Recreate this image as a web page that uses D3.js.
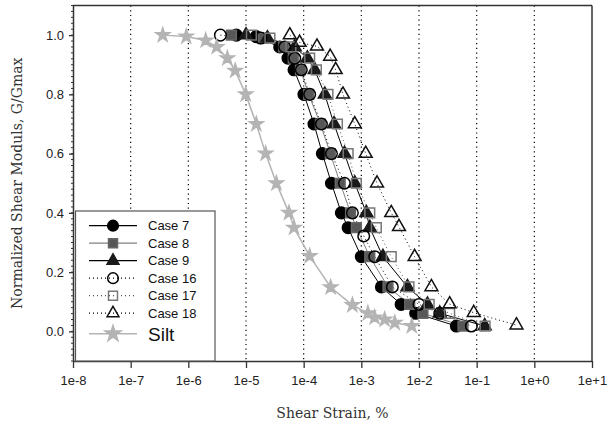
<!DOCTYPE html>
<html><head><meta charset="utf-8">
<script src="https://cdn.jsdelivr.net/npm/d3@7"></script>
<style>body{margin:0;background:#fff}svg{display:block}</style>
</head><body><div id="chart"></div>
<script>
// ---- data ----
const xTickLabels = ["1e-8","1e-7","1e-6","1e-5","1e-4","1e-3","1e-2","1e-1","1e+0","1e+1"];
const yTickLabels = ["0.0","0.2","0.4","0.6","0.8","1.0"];
const seriesNames = ["Case 7","Case 8","Case 9","Case 16","Case 17","Case 18","Silt"];

const case7X = [6.8e-6,1.5e-5,3.84e-5,5.35e-5,6.8e-5,1.01e-4,1.51e-4,2.11e-4,3.03e-4,4.5e-4,5.9e-4,1.0e-3,2.23e-3,4.9e-3,8.75e-3,4.45e-2];
const case7Y = [1.0,0.995,0.96,0.922,0.883,0.80,0.70,0.60,0.50,0.40,0.35,0.252,0.15,0.091,0.061,0.018];
const case8X = [5.6e-6,2.0e-5,4.5e-5,6.6e-5,8.8e-5,1.22e-4,1.95e-4,2.9e-4,4.3e-4,6.5e-4,8.2e-4,1.4e-3,2.9e-3,6.9e-3,1.17e-2,5.8e-2];
const case8Y = [1.0,0.99,0.96,0.922,0.883,0.80,0.70,0.60,0.50,0.40,0.35,0.252,0.15,0.091,0.061,0.018];
const case9X = [1.0e-5,2.35e-5,7.0e-5,1.16e-4,1.55e-4,2.32e-4,3.36e-4,5.1e-4,7.7e-4,1.22e-3,1.4e-3,2.37e-3,6.3e-3,1.4e-2,2.29e-2,0.138];
const case9Y = [1.0,0.99,0.96,0.922,0.883,0.80,0.70,0.60,0.50,0.40,0.35,0.252,0.15,0.091,0.061,0.018];
const case16X = [3.6e-6,1.8e-5,4.7e-5,7.0e-5,9.1e-5,1.27e-4,2.03e-4,3.03e-4,5.1e-4,7.0e-4,1.1e-3,1.71e-3,3.45e-3,1.0e-2,2.29e-2,8.1e-2];
const case16Y = [1.0,0.99,0.96,0.922,0.883,0.80,0.70,0.60,0.50,0.40,0.322,0.252,0.15,0.091,0.061,0.018];
const case17X = [1.24e-5,2.6e-5,6.0e-5,1.27e-4,1.66e-4,2.64e-4,3.85e-4,5.9e-4,8.2e-4,1.4e-3,1.82e-3,3.3e-3,6.7e-3,1.5e-2,3.4e-2,0.14];
const case17Y = [1.0,0.99,0.96,0.922,0.883,0.80,0.70,0.60,0.50,0.40,0.35,0.252,0.15,0.091,0.061,0.018];
const case18X = [5.75e-5,8.5e-5,1.7e-4,2.88e-4,3.59e-4,4.8e-4,7.7e-4,1.19e-3,1.87e-3,3.3e-3,4.5e-3,8.4e-3,1.64e-2,3.4e-2,8.9e-2,0.49];
const case18Y = [1.0,0.975,0.962,0.928,0.883,0.80,0.70,0.60,0.50,0.40,0.353,0.252,0.15,0.092,0.063,0.021];
const siltX = [3.6e-7,9.2e-7,2.0e-6,3.1e-6,4.75e-6,6.5e-6,9.9e-6,1.51e-5,2.19e-5,3.37e-5,5.56e-5,6.8e-5,1.27e-4,2.94e-4,7.0e-4,1.3e-3,1.7e-3,2.54e-3,3.8e-3,7.5e-3];
const siltY = [1.0,0.995,0.982,0.96,0.922,0.88,0.80,0.70,0.60,0.50,0.40,0.35,0.254,0.149,0.089,0.061,0.047,0.04,0.029,0.018];

// ---- layout / styles ----
const W = 608, H = 429;
const m = {left:73, right:592, top:5.5, bottom:361};
const styles = [
  {name:seriesNames[0], xs:case7X, ys:case7Y, sym:d3.symbolCircle, size:105, fill:"#000", stroke:"#000", line:"#000", dash:null},
  {name:seriesNames[1], xs:case8X, ys:case8Y, sym:d3.symbolSquare, size:95, fill:"#575757", stroke:"#666", line:"#808080", dash:null},
  {name:seriesNames[2], xs:case9X, ys:case9Y, sym:d3.symbolTriangle, size:72, fill:"#1a1a1a", stroke:"#1a1a1a", line:"#000", dash:null},
  {name:seriesNames[3], xs:case16X, ys:case16Y, sym:d3.symbolCircle, size:105, fill:"none", stroke:"#000", line:"#000", dash:"1,3"},
  {name:seriesNames[4], xs:case17X, ys:case17Y, sym:d3.symbolSquare, size:95, fill:"none", stroke:"#777", line:"#555", dash:"1,3"},
  {name:seriesNames[5], xs:case18X, ys:case18Y, sym:d3.symbolTriangle, size:72, fill:"none", stroke:"#111", line:"#000", dash:"1,3"},
  {name:seriesNames[6], xs:siltX, ys:siltY, sym:d3.symbolStar, size:60, fill:"#b4b4b4", stroke:"#b4b4b4", line:"#b4b4b4", dash:null, lw:1.5}
];

const svg = d3.select("#chart").append("svg").attr("width",W).attr("height",H);

const x = d3.scaleLog().domain([1e-8,1e1]).range([m.left,m.right]);
const y = d3.scaleLinear().domain([-0.1,1.1]).range([m.bottom,m.top]);

// grid (vertical dotted)
const decades = d3.range(-7,1).map(e=>Math.pow(10,e));
svg.append("g").selectAll("line").data(decades).join("line")
  .attr("x1",d=>x(d)).attr("x2",d=>x(d)).attr("y1",m.top).attr("y2",m.bottom)
  .attr("stroke","#000").attr("stroke-width",1.2).attr("stroke-dasharray","1.2,3.5");

// series
const lineGen = d3.line().x(d=>x(d[0])).y(d=>y(d[1]));
const gSeries = svg.append("g");
styles.forEach(s=>{
  const pts = s.xs.map((v,i)=>[v,s.ys[i]]);
  gSeries.append("path").attr("d",lineGen(pts)).attr("fill","none")
    .attr("stroke",s.line).attr("stroke-width",s.lw||1)
    .attr("stroke-dasharray",s.dash);
});
styles.forEach(s=>{
  const pts = s.xs.map((v,i)=>[v,s.ys[i]]);
  gSeries.append("g").selectAll("path").data(pts).join("path")
    .attr("transform",d=>`translate(${x(d[0])},${y(d[1])})`)
    .attr("d",d3.symbol().type(s.sym).size(s.size))
    .attr("fill",s.fill).attr("stroke",s.stroke).attr("stroke-width",1.5);
});

// axes
const xAxis = d3.axisBottom(x).tickValues(xTickLabels.map(t=>+t)).tickFormat((d,i)=>xTickLabels[i]).tickSize(7).tickSizeOuter(0);
const gx = svg.append("g").attr("transform",`translate(0,${m.bottom})`).call(xAxis);
gx.select(".domain").attr("stroke","#333").attr("stroke-width",1.5);
gx.selectAll(".tick line").attr("stroke","#333").attr("stroke-width",1.3);
gx.selectAll("text").attr("font-family","Liberation Sans, Arial, sans-serif").attr("font-size",13).attr("fill","#222").attr("dy","1.05em");

// minor y ticks
svg.append("g").selectAll("line").data(d3.range(-0.1,1.101,0.02)).join("line")
  .attr("x1",m.left-2).attr("x2",m.left).attr("y1",d=>y(d)).attr("y2",d=>y(d))
  .attr("stroke","#333").attr("stroke-width",1);
const yAxis = d3.axisLeft(y).tickValues(yTickLabels.map(t=>+t)).tickFormat((d,i)=>yTickLabels[i]).tickSize(4).tickSizeOuter(0);
const gy = svg.append("g").attr("transform",`translate(${m.left},0)`).call(yAxis);
gy.select(".domain").attr("stroke","#333").attr("stroke-width",1.5);
gy.selectAll(".tick line").attr("stroke","#333").attr("stroke-width",1.3);
gy.selectAll("text").attr("font-family","Liberation Sans, Arial, sans-serif").attr("font-size",13).attr("fill","#222").attr("x",-9);

// top/right border
svg.append("line").attr("x1",m.left).attr("x2",m.right).attr("y1",m.top).attr("y2",m.top).attr("stroke","#333").attr("stroke-width",1.5);
svg.append("line").attr("x1",m.right).attr("x2",m.right).attr("y1",m.top).attr("y2",m.bottom).attr("stroke","#333").attr("stroke-width",1.5);

// axis titles
svg.append("text").attr("x",(m.left+m.right)/2).attr("y",418).attr("text-anchor","middle")
  .attr("font-family","DejaVu Serif, serif").attr("font-size",14).attr("fill","#333").text("Shear Strain, %");
svg.append("text").attr("transform",`translate(22,${(m.top+m.bottom)/2}) rotate(-90)`).attr("text-anchor","middle")
  .attr("font-family","DejaVu Serif, serif").attr("font-size",14).attr("fill","#333").text("Normalized Shear Moduls, G/Gmax");

// legend
const lg = svg.append("g");
lg.append("rect").attr("x",75.5).attr("y",211).attr("width",139.5).attr("height",m.bottom-211)
  .attr("fill","#fff").attr("stroke","#555").attr("stroke-width",1.2);
styles.forEach((s,i)=>{
  const cy = 225.7 + i*17.5 + (i===6?3:0);
  lg.append("line").attr("x1",89).attr("x2",137).attr("y1",cy).attr("y2",cy)
    .attr("stroke",s.line).attr("stroke-width",s.lw||1.2).attr("stroke-dasharray",s.dash);
  lg.append("path").attr("transform",`translate(113,${cy})`)
    .attr("d",d3.symbol().type(s.sym).size(s.size*(i===6?1.3:0.85)))
    .attr("fill",s.fill==="none"?"none":s.fill).attr("stroke",s.stroke).attr("stroke-width",1.5);
  lg.append("text").attr("x",148).attr("y",cy).attr("dy","0.36em")
    .attr("font-family","Liberation Sans, Arial, sans-serif").attr("font-size",i===6?19:13).attr("fill","#111").text(s.name);
});
</script></body></html>
